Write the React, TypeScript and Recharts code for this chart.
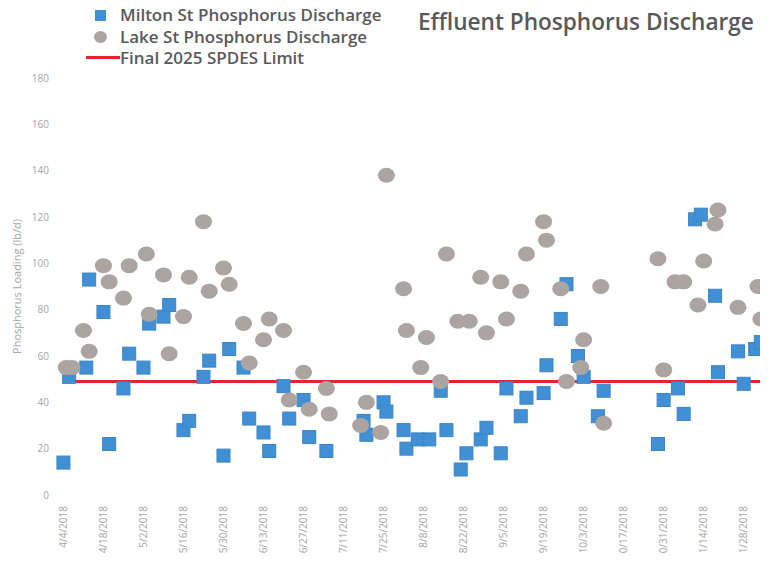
import React from 'react';
import { ScatterChart, Scatter, XAxis, YAxis, Label } from 'recharts';

// sample dates (2018) and loads in lb/d
const miltonDates = [
  '4/4', '4/6', '4/12', '4/13', '4/18', '4/20', '4/25', '4/27', '5/2', '5/4',
  '5/9', '5/11', '5/16', '5/18', '5/23', '5/25', '5/30', '6/1', '6/6', '6/8',
  '6/13', '6/15', '6/20', '6/22', '6/27', '6/29', '7/5', '7/18', '7/19', '7/25',
  '7/26', '8/1', '8/2', '8/6', '8/10', '8/14', '8/16', '8/21', '8/23', '8/28',
  '8/30', '9/4', '9/6', '9/11', '9/13', '9/19', '9/20', '9/25', '9/27', '10/1',
  '10/3', '10/8', '10/10', '10/29', '10/31', '11/5', '11/7', '11/11', '11/13', '11/18',
  '11/19', '11/26', '11/28', '12/2', '12/4',
];
const miltonLoads = [
  14, 51, 55, 93, 79, 22, 46, 61, 55, 74,
  77, 82, 28, 32, 51, 58, 17, 63, 55, 33,
  27, 19, 47, 33, 41, 25, 19, 32, 26, 40,
  36, 28, 20, 24, 24, 45, 28, 11, 18, 24,
  29, 18, 46, 34, 42, 44, 56, 76, 91, 60,
  51, 34, 45, 22, 41, 46, 35, 119, 121, 86,
  53, 62, 48, 63, 66,
];

const lakeDates = [
  '4/5', '4/7', '4/11', '4/13', '4/18', '4/20', '4/25', '4/27', '5/3', '5/4',
  '5/9', '5/11', '5/16', '5/18', '5/23', '5/25', '5/30', '6/1', '6/6', '6/8',
  '6/13', '6/15', '6/20', '6/22', '6/27', '6/29', '7/5', '7/6', '7/17', '7/19',
  '7/24', '7/26', '8/1', '8/2', '8/7', '8/9', '8/14', '8/16', '8/20', '8/24',
  '8/28', '8/30', '9/4', '9/6', '9/11', '9/13', '9/19', '9/20', '9/25', '9/27',
  '10/2', '10/3', '10/9', '10/10', '10/29', '10/31', '11/4', '11/7', '11/12', '11/14',
  '11/18', '11/19', '11/26', '12/3', '12/4',
];
const lakeLoads = [
  55, 55, 71, 62, 99, 92, 85, 99, 104, 78,
  95, 61, 77, 94, 118, 88, 98, 91, 74, 57,
  67, 76, 71, 41, 53, 37, 46, 35, 30, 40,
  27, 138, 89, 71, 55, 68, 49, 104, 75, 75,
  94, 70, 92, 76, 88, 104, 118, 110, 89, 49,
  55, 67, 90, 31, 102, 54, 92, 92, 82, 101,
  117, 123, 81, 90, 76,
];

const limitDates = ['4/4', '12/31'];
const limitLoads = [49, 49];

const yTicks = [0, 20, 40, 60, 80, 100, 120, 140, 160, 180];
const xTickDates = [
  '4/4', '4/18', '5/2', '5/16', '5/30', '6/13', '6/27', '7/11', '7/25', '8/8',
  '8/22', '9/5', '9/19', '10/3', '10/17', '10/31', '11/14', '11/28',
];

const YEAR = 2018;
const START = Date.UTC(YEAR, 3, 4);
const toDay = (md: string) => {
  const [m, d] = md.split('/').map(Number);
  return Math.round((Date.UTC(YEAR, m - 1, d) - START) / 86400000);
};
const fmtDay = (day: number) => {
  const dt = new Date(START + day * 86400000);
  return `${dt.getUTCMonth() + 1}/${dt.getUTCDate()}/${YEAR}`;
};

const pairs = (dates: string[], vals: number[]) =>
  dates.map((d, i) => ({ day: toDay(d), load: vals[i] }));

const milton = pairs(miltonDates, miltonLoads);
const lake = pairs(lakeDates, lakeLoads);
const limit = pairs(limitDates, limitLoads);
const xTicks = xTickDates.map(toDay);

const BLUE = '#4190d6';
const GREY = '#aba4a1';
const RED = '#e3262b';
const AXIS_TEXT = '#a6a6a6';

const Square = (props: any) => {
  const { cx, cy } = props;
  return <rect x={cx - 6.5} y={cy - 6.5} width={13} height={13} fill={BLUE} stroke="#3a84c8" strokeWidth={1} />;
};
const Dot = (props: any) => {
  const { cx, cy } = props;
  return <ellipse cx={cx} cy={cy} rx={8.5} ry={7.5} fill={GREY} />;
};
const NoShape = () => <g />;

const DateTick = (props: any) => {
  const { x, y, payload } = props;
  const ty = y + 3;
  return (
    <text
      x={x}
      y={ty}
      dy="0.35em"
      transform={`rotate(-90, ${x}, ${ty})`}
      textAnchor="end"
      fontSize={10}
      fill={AXIS_TEXT}
    >
      {fmtDay(payload.value)}
    </text>
  );
};

const legendText: React.CSSProperties = {
  position: 'absolute',
  left: 120,
  fontSize: 17,
  fontWeight: 600,
  color: '#5a5a5a',
  lineHeight: '22px',
  whiteSpace: 'nowrap',
};

export default function App() {
  return (
    <div
      style={{
        position: 'relative',
        width: 768,
        height: 562,
        margin: -8,
        overflow: 'hidden',
        background: '#fff',
        fontFamily: '"Open Sans", sans-serif',
      }}
    >
      <ScatterChart width={838} height={562} margin={{ top: 78, right: 0, bottom: 0, left: 0 }}>
        <XAxis
          type="number"
          dataKey="day"
          domain={[-4, 270]}
          ticks={xTicks}
          axisLine={false}
          tickLine={false}
          height={67}
          interval={0}
          tick={<DateTick />}
        />
        <YAxis
          type="number"
          dataKey="load"
          domain={[0, 180]}
          ticks={yTicks}
          width={52}
          axisLine={false}
          tickLine={false}
          tickSize={0}
          tickMargin={3}
          tick={{ fontSize: 10, fill: AXIS_TEXT }}
        >
          <Label
            content={(p: any) => {
              const vb = p.viewBox || { x: 0, y: 78, width: 52, height: 417 };
              const lx = vb.x + 17;
              const ly = vb.y + vb.height / 2;
              return (
                <text x={lx} y={ly} transform={`rotate(-90, ${lx}, ${ly})`} textAnchor="middle" dy="0.35em" fontSize={11} fill={AXIS_TEXT}>
                  Phosphorus Loading (lb/d)
                </text>
              );
            }}
          />
        </YAxis>
        <Scatter
          name="Final 2025 SPDES Limit"
          data={limit}
          line={{ stroke: RED, strokeWidth: 3 }}
          shape={<NoShape />}
          isAnimationActive={false}
        />
        <Scatter name="Milton St Phosphorus Discharge" data={milton} shape={<Square />} isAnimationActive={false} />
        <Scatter name="Lake St Phosphorus Discharge" data={lake} shape={<Dot />} isAnimationActive={false} />
      </ScatterChart>

      <div
        style={{
          position: 'absolute',
          left: 418,
          top: 6,
          fontSize: 22.6,
          fontWeight: 600,
          color: '#595959',
          whiteSpace: 'nowrap',
          lineHeight: '32px',
        }}
      >
        Effluent Phosphorus Discharge
      </div>

      <div style={{ position: 'absolute', left: 95, top: 10, width: 11, height: 11, background: BLUE }} />
      <div style={{ ...legendText, top: 4 }}>Milton St Phosphorus Discharge</div>
      <div style={{ position: 'absolute', left: 94, top: 31, width: 13, height: 12, borderRadius: '50%', background: GREY }} />
      <div style={{ ...legendText, top: 26 }}>Lake St Phosphorus Discharge</div>
      <div style={{ position: 'absolute', left: 86, top: 56, width: 34, height: 3, background: RED }} />
      <div style={{ ...legendText, top: 47 }}>Final 2025 SPDES Limit</div>
    </div>
  );
}
